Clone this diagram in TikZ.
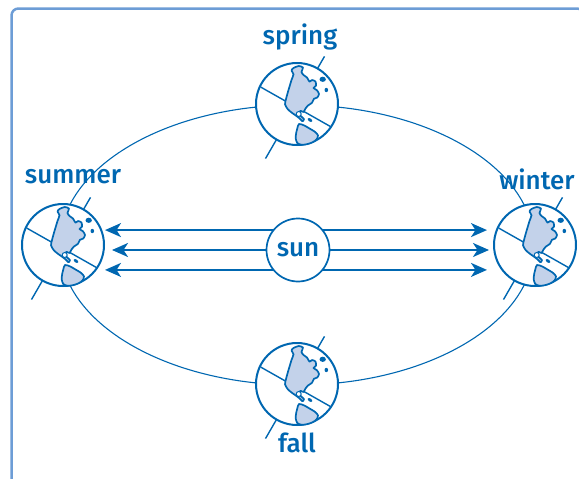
\documentclass[tikz,border=0pt]{standalone}
\usepackage{fontspec}
\setmainfont{Fira Sans Medium}
\usetikzlibrary{positioning, arrows.meta, backgrounds}
\definecolor{seablue}{HTML}{0067B1}
\definecolor{landblue}{HTML}{C3D2EA}
\definecolor{frameblue}{HTML}{6D9DD6}
\tikzset{
  seasons/.style={
	x=1pt, y=-1pt, % work in pixels, y pointing down
	font=\fontsize{26}{30}\selectfont,
	text=seablue,
	node distance=235pt,
  },
  globe/.style={circle, draw=seablue, line width=2pt, fill=white, minimum size=82pt, inner sep=0pt},
  sunball/.style={circle, draw=seablue, line width=1.7pt, fill=white, minimum size=63pt, inner sep=0pt},
  orbit/.style={draw=seablue, line width=1.1pt},
  ray/.style={-{Stealth[length=16pt, width=14pt, inset=4.5pt]}, draw=seablue, line width=2pt},
  land/.style={fill=landblue, draw=seablue, line width=1.7pt, line join=round},
  tilt/.style={draw=seablue, line width=1.4pt},
}
% the earth drawn into globe node #1
\newcommand{\earth}[1]{
  \begin{scope}[shift={(#1.center)}]
	\draw[tilt] (-60:41) -- (-60:55) (120:41) -- (120:63); % axis
	\draw[tilt] (205:40) -- (34:40); % equator
	% north and central america
	\draw[land] plot[smooth cycle, tension=0.4] coordinates {
	  (-3.5,-36) (1.7,-38) (6,-36.5) (4.5,-32) (6.5,-29) (10,-26.5)
	  (12.5,-22.3) (15,-24) (18.5,-22.5) (19,-18.3) (16.5,-16) (20,-13.7)
	  (22,-10) (20.3,-6.5) (17,-5.2) (15,-1.2) (11,1.5) (8.5,4.5) (6.5,8)
	  (3.5,6.8) (2,8.7) (4,12.3) (7,15) (5.5,17.3) (3,14.8) (-0.5,12)
	  (-4.5,9.2) (-9,5.5) (-12,0.3) (-10.8,-5.7) (-9,-12.3) (-7,-19)
	  (-5.5,-24) (-3.5,-29.7) (-5.5,-33.5)};
	% south america
	\draw[land] plot[smooth cycle, tension=0.5] coordinates {
	  (2,20) (7.3,21.5) (12.5,24.5) (17.5,27.5) (21,31.3) (19.5,35.5)
	  (15.5,38.3) (10,40.2) (4.5,40.7) (0.3,39) (-1.3,34.3) (-0.8,29) (0.3,24.5)};
	% islands
	\fill[seablue] (25.7,-24.7) ellipse [x radius=3.2pt, y radius=2.6pt];
	\fill[seablue] (29.3,-14) ellipse [x radius=1.8pt, y radius=2.2pt];
	\fill[seablue, rotate around={-35:(13,16)}] (13,16) ellipse [x radius=2.6pt, y radius=1.5pt];
	\draw[seablue, fill=white, line width=1pt] (1.7,10) circle [radius=2.5pt];
  \end{scope}
}

\begin{document}
\begin{tikzpicture}[seasons]
	  \useasboundingbox (0,0) rectangle (579,479);
	  \clip (0,0) rectangle (579,479);
	  \draw[frameblue, line width=2.5pt, rounded corners=7pt] (11.5,8.5) rectangle (584,488);

	  \node[sunball] (sun) at (298,250) {sun};
	  \node[globe, above of=sun, node distance=146pt, xshift=-1pt] (spring) {};
	  \node[globe, below of=sun, node distance=134pt, xshift=-1pt] (fall) {};
	  \node[globe, left of=sun, yshift=5pt] (summer) {};
	  \node[globe, right of=sun, node distance=237pt, yshift=5pt] (winter) {};

	  \node[above of=spring, node distance=67pt, xshift=3pt] (springtext) {spring};
	  \node[above of=summer, node distance=68pt, xshift=10pt] (summertext) {summer};
	  \node[above of=winter, node distance=66pt, xshift=2pt] (wintertext) {winter};
	  \node[below of=fall, node distance=59pt] (falltext) {fall};

	  \begin{scope}[on background layer]
		\draw[orbit] (spring |- summer) ellipse [x radius=237pt, y radius=140pt];
	  \end{scope}

	  \earth{spring}
	  \earth{summer}
	  \earth{winter}
	  \earth{fall}

	  \draw[ray] (sun.142) -- (sun.142 -| summer.east);
	  \draw[ray, shorten >=7pt] (sun.west) -- (sun.west -| summer.east);
	  \draw[ray] (sun.218) -- (sun.218 -| summer.east);
	  \draw[ray, shorten >=6pt] (sun.38) -- (sun.38 -| winter.west);
	  \draw[ray, shorten >=4pt] (sun.east) -- (sun.east -| winter.west);
	  \draw[ray, shorten >=6pt] (sun.-38) -- (sun.-38 -| winter.west);
\end{tikzpicture}
\end{document}
